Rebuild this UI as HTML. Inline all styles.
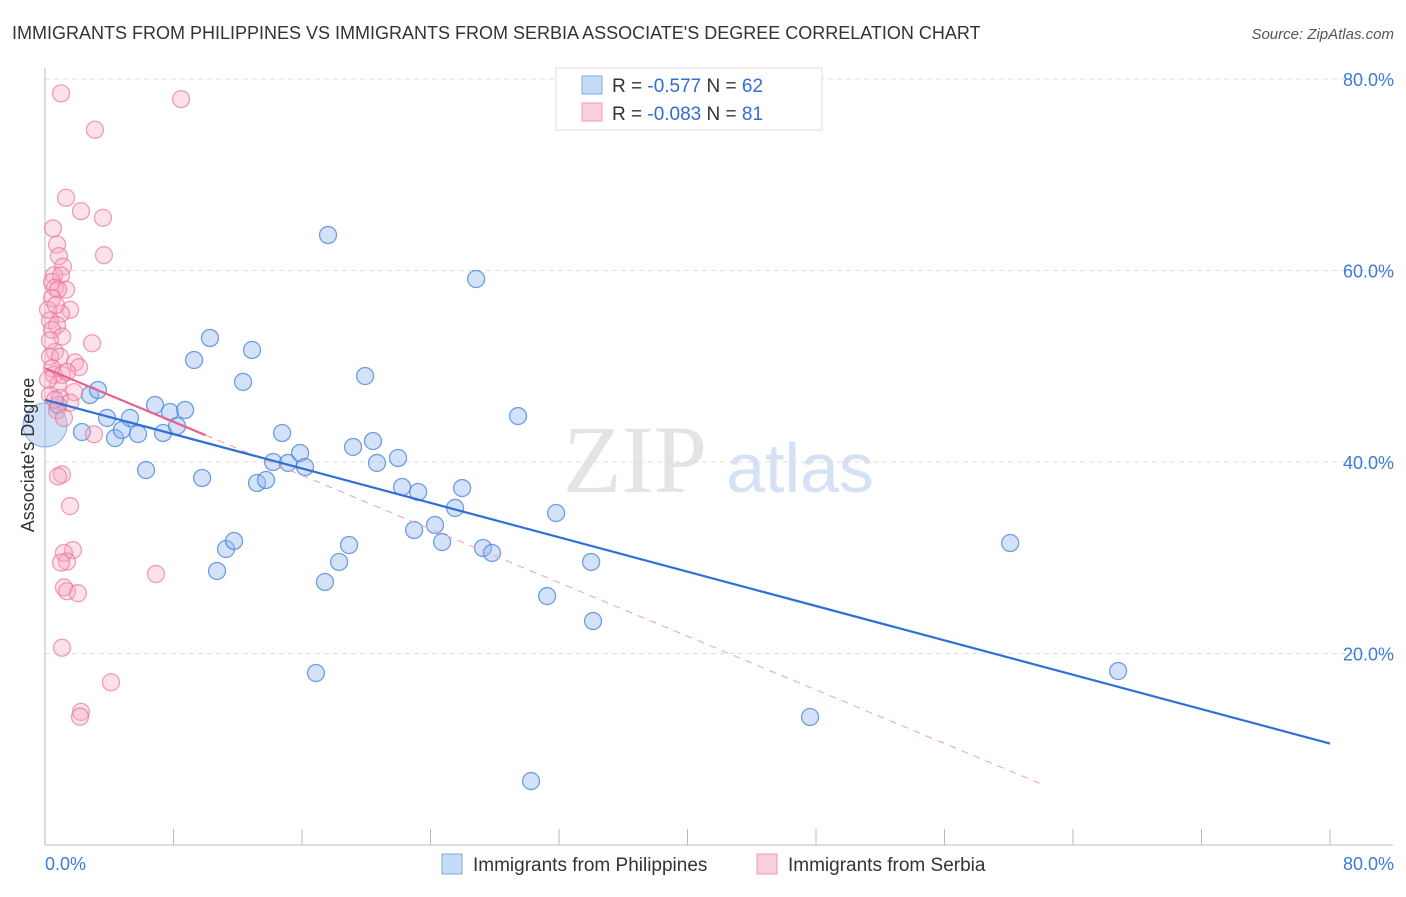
<!DOCTYPE html>
<html><head><meta charset="utf-8"><style>
body{margin:0;background:#fff;font-family:"Liberation Sans",sans-serif;}
svg text{font-family:"Liberation Sans",sans-serif;}
</style></head><body>
<svg id="chart" width="1406" height="892" xmlns="http://www.w3.org/2000/svg">
<text x="12" y="39" font-size="18" fill="#333">IMMIGRANTS FROM PHILIPPINES VS IMMIGRANTS FROM SERBIA ASSOCIATE'S DEGREE CORRELATION CHART</text>
<text x="1394" y="39" font-size="15" fill="#555" font-style="italic" text-anchor="end">Source: ZipAtlas.com</text>
<text x="635" y="492" font-size="96" fill="#e4e4e4" font-family="Liberation Serif" text-anchor="middle" style="font-family:'Liberation Serif',serif">ZIP</text>
<text x="800" y="492" font-size="70" fill="#d5e2f3" text-anchor="middle">atlas</text>
<g id="grid"></g><g id="axes"></g><g id="pts"></g><g id="trend"></g>
<text transform="translate(34,455) rotate(-90)" font-size="18" fill="#333" text-anchor="middle">Associate's Degree</text>
<text x="45" y="870" font-size="18" fill="#3d7bd6">0.0%</text>
<text x="1394" y="870" font-size="18" fill="#3d7bd6" text-anchor="end">80.0%</text>
<g>
<rect x="556" y="68" width="266" height="62" fill="#fff" stroke="#ddd"/>
<rect x="582" y="76" width="20" height="18" fill="#c6dbf5" stroke="#7fa9e6"/>
<text x="612" y="92" font-size="19" fill="#333">R = <tspan fill="#2f6fd0">-0.577</tspan>   N = <tspan fill="#2f6fd0">62</tspan></text>
<rect x="582" y="103" width="20" height="18" fill="#f9cfdc" stroke="#f09ab4"/>
<text x="612" y="120" font-size="19" fill="#333">R = <tspan fill="#2f6fd0">-0.083</tspan>   N = <tspan fill="#2f6fd0">81</tspan></text>
</g>
<g>
<rect x="442" y="854" width="20" height="20" fill="#c6dbf5" stroke="#7fa9e6"/>
<text x="473" y="871" font-size="19" fill="#333">Immigrants from Philippines</text>
<rect x="757" y="854" width="20" height="20" fill="#f9cfdc" stroke="#f09ab4"/>
<text x="788" y="871" font-size="19" fill="#333">Immigrants from Serbia</text>
</g>
</svg>
<script>
const yTicks=[20,40,60,80];
const xTicks=[0,8,16,24,32,40,48,56,64,72,80];
const blueX=[0.81,2.30,2.80,3.30,3.86,4.36,4.79,5.29,5.79,6.29,6.85,7.35,7.78,8.22,8.72,9.28,9.78,10.27,10.71,11.27,11.77,12.33,12.89,13.20,13.76,14.20,14.76,15.13,15.88,16.19,16.87,17.43,17.62,18.31,18.93,19.18,19.93,20.42,20.67,21.98,22.23,23.23,22.98,24.28,24.72,25.53,25.97,26.84,27.27,27.83,29.45,30.26,31.26,31.82,34.00,34.12,47.63,60.09,66.81];
const blueY=[45.95,43.13,47.0,47.52,44.6,42.5,43.34,44.6,42.92,39.16,45.95,43.03,45.22,43.76,45.43,50.65,38.33,52.95,28.62,30.91,31.75,48.36,51.70,37.81,38.12,40.0,43.03,39.9,40.94,39.48,17.96,27.47,63.71,29.56,31.33,41.57,48.98,42.19,39.9,40.42,37.39,36.87,32.9,33.42,31.64,35.2,37.28,59.11,31.02,30.5,44.8,6.68,26.0,34.67,29.56,23.39,13.37,31.54,18.17];
const pinkX=[1.0,8.47,3.11,1.31,2.24,3.61,0.5,3.67,0.75,0.87,1.12,0.56,1.0,0.44,0.62,1.31,0.81,0.44,1.56,1.0,0.31,0.75,0.44,1.06,2.93,0.62,0.31,0.93,1.87,0.44,2.12,0.56,1.06,0.81,1.81,0.31,0.93,1.56,0.75,1.18,3.05,1.06,0.81,1.56,1.74,1.18,1.37,1.0,1.18,1.37,2.05,6.91,1.06,4.11,2.24,2.18,0.31,0.19,0.68,1.37,0.19,0.62];
const pinkY=[78.5,77.9,74.7,67.6,66.2,65.5,64.4,61.6,62.7,61.5,60.4,59.5,59.5,58.8,58.2,58.0,58.0,57.1,55.9,55.5,54.8,54.3,53.8,53.1,52.4,51.5,51.0,51.0,50.4,49.8,49.9,49.1,49.1,48.1,47.3,47.0,46.7,46.2,45.4,44.6,42.9,38.7,38.5,35.4,30.8,30.5,29.6,29.5,26.9,26.5,26.3,28.3,20.6,17.0,13.9,13.4,52.7,55.9,56.4,49.4,48.6,46.5];
const blueTrend=[46.5,10.6]; // y at x=0 and x=80
const pinkTrend=[49.8,42.8]; // y at x=0 and x=10
const pinkDashEndX=62.2;
const NS="http://www.w3.org/2000/svg";
const sx=v=>45+v*16.0625;
const sy=v=>845-v*9.575;
function mk(tag,attrs,parent){const e=document.createElementNS(NS,tag);for(const k in attrs)e.setAttribute(k,attrs[k]);parent.appendChild(e);return e;}
const grid=document.getElementById('grid'),axes=document.getElementById('axes'),pts=document.getElementById('pts'),trend=document.getElementById('trend');
yTicks.forEach(t=>{
 const l=mk('line',{x1:45,x2:1393,y1:sy(t),y2:sy(t),stroke:'#ddd','stroke-dasharray':'5,4'},grid);
 
 
 const tx=mk('text',{x:1394,y:sy(t)+7,'font-size':18,fill:'#3d7bd6','text-anchor':'end'},grid);
 tx.textContent=t.toFixed(1)+'%';
 
 
});
const ax=mk('line',{x1:45,x2:45,y1:68,y2:845,stroke:'#bbb'},axes);


const bx=mk('line',{x1:45,x2:1393,y1:845,y2:845,stroke:'#bbb'},axes);


xTicks.forEach(t=>{
 const l=mk('line',{x1:sx(t),x2:sx(t),y1:829,y2:845,stroke:'#bbb'},axes);
 
 
});
const big=mk('circle',{cx:sx(0),cy:sy(43.86),r:22,fill:'rgba(150,187,238,0.45)',stroke:'rgba(80,140,220,0.6)'},pts);


blueX.forEach((x,i)=>{
 const c=mk('circle',{cx:sx(x),cy:sy(blueY[i]),r:8.5,fill:'rgba(150,187,238,0.42)',stroke:'rgba(70,130,215,0.75)','stroke-width':1.3},pts);
 
 
});
pinkX.forEach((x,i)=>{
 const c=mk('circle',{cx:sx(x),cy:sy(pinkY[i]),r:8.5,fill:'rgba(246,170,195,0.35)',stroke:'rgba(235,110,150,0.65)','stroke-width':1.3},pts);
 
 
});
const slope=(pinkTrend[1]-pinkTrend[0])/10;
const pd=mk('line',{x1:sx(10),y1:sy(pinkTrend[1]),x2:sx(pinkDashEndX),y2:sy(pinkTrend[0]+slope*pinkDashEndX),stroke:'#f0a0b8','stroke-width':1,'stroke-dasharray':'7,6'},trend);


const bt=mk('line',{x1:sx(0),y1:sy(blueTrend[0]),x2:sx(80),y2:sy(blueTrend[1]),stroke:'#2f6fd6','stroke-width':2.2},trend);


const pt=mk('line',{x1:sx(0),y1:sy(pinkTrend[0]),x2:sx(10),y2:sy(pinkTrend[1]),stroke:'#e8628d','stroke-width':2.2},trend);


</script>
</body></html>
